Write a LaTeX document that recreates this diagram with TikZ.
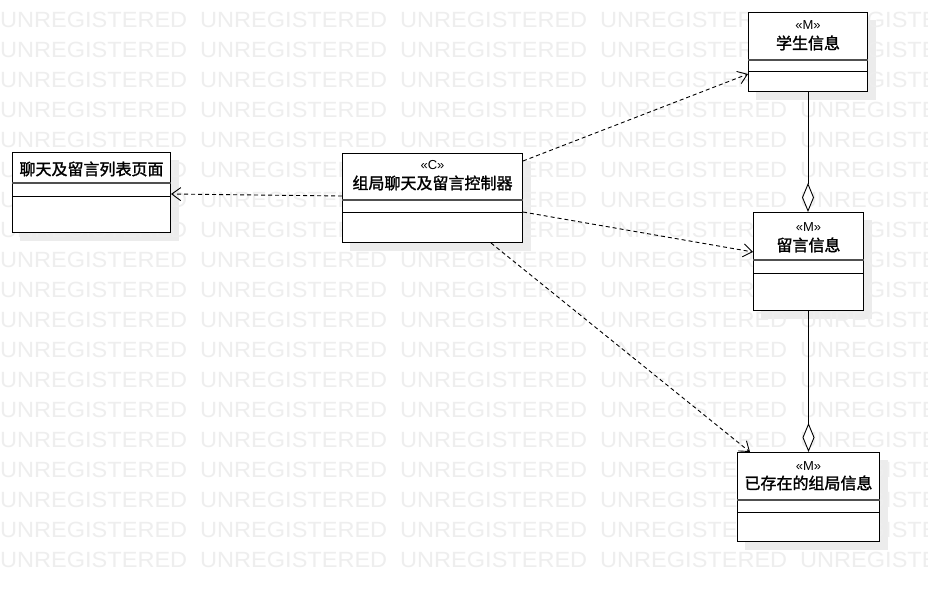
\documentclass[tikz,border=0pt]{standalone}
\usepackage{fontspec}
\setmainfont{Liberation Sans}
\newfontfamily\cjk[FakeBold=1.6]{Noto Sans CJK SC}
\usetikzlibrary{arrows.meta,calc}
\pgfdeclarelayer{shade}
\pgfdeclarelayer{mark}
\pgfsetlayers{shade,mark,main}
\definecolor{wmgray}{RGB}{238,238,238}
\definecolor{shadowgray}{RGB}{236,236,236}
\definecolor{sepgray}{RGB}{80,80,80}

\begin{document}
\begin{tikzpicture}[x=1pt,y=-1pt,
  classbox/.style={draw=black, line width=1pt, fill=white, anchor=north west, inner sep=0pt},
  stereo/.style={font=\fontsize{13}{13}\selectfont, inner sep=0pt},
  cname/.style={font=\cjk\fontsize{16}{16}\selectfont, inner sep=0pt},
  sepA/.style={line width=1.6pt, draw=sepgray},
  sepB/.style={line width=1pt, draw=black},
  dep/.style={line width=0.9pt, dash pattern=on 4pt off 3pt,
    -{Straight Barb[length=9pt,width=13pt,line width=0.9pt]}},
  agg/.style={line width=0.9pt, -{Diamond[open,length=29pt,width=12pt,fill=white]}},
  wm/.style={text=wmgray, font=\fontsize{22}{22}\selectfont, inner sep=0pt, anchor=west},
  shadowbox/.style={fill=shadowgray}
]
\useasboundingbox (0,0) rectangle (928,591);

% class boxes
\node[classbox, minimum width=158, minimum height=80] (page) at (12,152) {};
\node[classbox, minimum width=180, minimum height=89] (ctrl) at (342,153) {};
\node[classbox, minimum width=119, minimum height=79] (stu) at (748,12) {};
\node[classbox, minimum width=110, minimum height=98] (msg) at (753,212) {};
\node[classbox, minimum width=142, minimum height=89] (grp) at (737,452) {};

% names and stereotypes
\node[cname] (page-name) at ($(page.north)+(0,17)$) {聊天及留言列表页面};
\node[stereo] (ctrl-st) at ($(ctrl.north)+(0,12)$) {«C»};
\node[cname] (ctrl-name) at ($(ctrl.north)+(0,30)$) {组局聊天及留言控制器};
\node[stereo] (stu-st) at ($(stu.north)+(0,13)$) {«M»};
\node[cname] (stu-name) at ($(stu.north)+(0,31)$) {学生信息};
\node[stereo] (msg-st) at ($(msg.north)+(0,15)$) {«M»};
\node[cname] (msg-name) at ($(msg.north)+(0,33)$) {留言信息};
\node[stereo] (grp-st) at ($(grp.north)+(0,14)$) {«M»};
\node[cname] (grp-name) at ($(grp.north)+(0,31)$) {已存在的组局信息};

% compartment separators
\foreach \n/\a/\b in {page/31/44, ctrl/47/59, stu/48/60, msg/48/61, grp/48/60}{
  \draw[sepA] ($(\n.north west)+(0,\a)$) -- ($(\n.north east)+(0,\a)$);
  \draw[sepB] ($(\n.north west)+(0,\b)$) -- ($(\n.north east)+(0,\b)$);
}

% dependencies
\draw[dep] ($(ctrl.north west)+(0,43)$) -- ($(page.north east)+(0,42)$);
\draw[dep] ($(ctrl.north east)+(0,8)$) -- ($(stu.north west)+(0,62)$);
\draw[dep] ($(ctrl.north east)+(0,59)$) -- ($(msg.north west)+(0,40)$);
\draw[dep] ($(ctrl.south east)+(-32,0)$) -- ($(grp.north west)+(13,0)$);

% aggregations
\draw[agg] (stu.south) -- (stu.south |- msg.north);
\draw[agg] (msg.south) -- (msg.south |- grp.north);

% drop shadows
\begin{pgfonlayer}{shade}
  \fill[white] (0,0) rectangle (928,591);
  \foreach \n in {page,ctrl,stu,msg,grp}{
    \fill[shadowbox] ($(\n.north west)+(8,8)$) rectangle ($(\n.south east)+(8,8)$);
  }
\end{pgfonlayer}

% watermark text
\begin{pgfonlayer}{mark}
  \foreach \r in {0,...,18}{
    \foreach \c in {0,...,4}{
      \node[wm] (wm-\r-\c) at (200*\c, 20+30*\r) {\scalebox{1.07}[1]{UNREGISTERED}};
    }
  }
\end{pgfonlayer}
\end{tikzpicture}
\end{document}
